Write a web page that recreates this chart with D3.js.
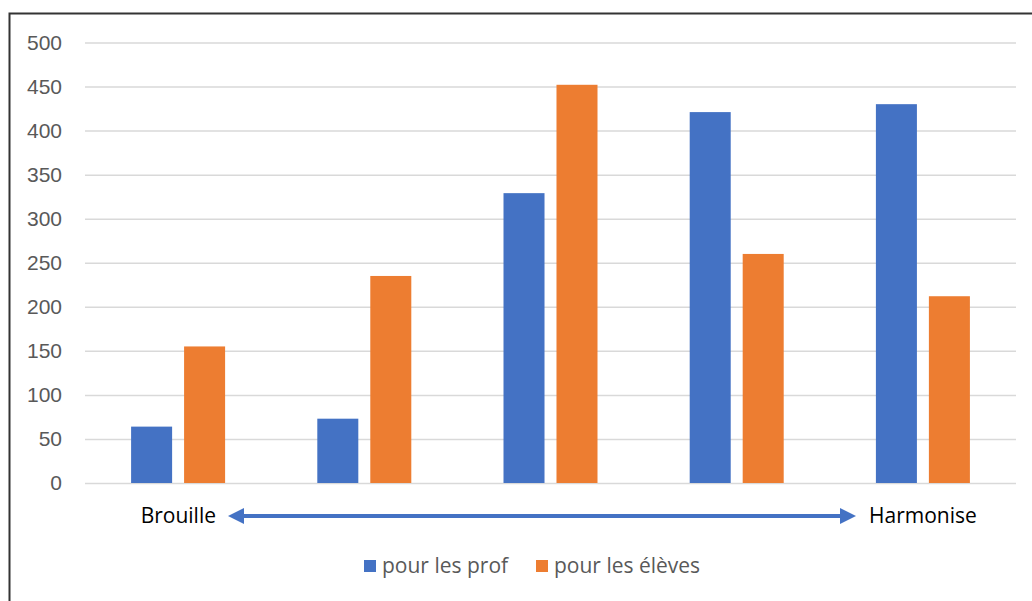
<!DOCTYPE html>
<html>
<head>
<meta charset="utf-8">
<script src="https://cdn.jsdelivr.net/npm/d3@7"></script>
<style>
  body { margin: 0; background: #fff; }
  svg { display: block; font-family: "Open Sans", "Noto Sans", sans-serif; }
  .tick text { fill: #595959; font-size: 21px; }
</style>
</head>
<body>
<div id="chart"></div>
<script>
// groups along the Brouille -> Harmonise axis (no category labels shown)
var categories = ["1", "2", "3", "4", "5"];
var seriesNames = ["pour les prof", "pour les élèves"];
var profValues = [64, 73, 329, 421, 430];
var elevesValues = [155, 235, 452, 260, 212];
var yTicks = [0, 50, 100, 150, 200, 250, 300, 350, 400, 450, 500];
var endLabels = ["Brouille", "Harmonise"];
var colors = ["#4472C4", "#ED7D31"];

var width = 1032, height = 601;
var margin = {top: 42.5, right: 16, bottom: 118, left: 85};

var svg = d3.select("#chart").append("svg")
    .attr("width", width)
    .attr("height", height);

// frame around chart (right and bottom edges are cropped in the original)
svg.append("path")
    .attr("d", "M9.5," + height + " V13.5 H" + width)
    .attr("fill", "none")
    .attr("stroke", "#333")
    .attr("stroke-width", 2);

var x0 = d3.scaleBand()
    .domain(categories)
    .range([margin.left, width - margin.right]);

var x1 = d3.scaleBand()
    .domain(seriesNames)
    .range([0, x0.bandwidth()])
    .paddingInner(0.226)
    .paddingOuter(0.87);

var y = d3.scaleLinear()
    .domain([0, 500])
    .range([height - margin.bottom, margin.top]);

// gridlines + labels
var yAxis = svg.append("g")
    .attr("transform", "translate(" + margin.left + ",0)")
    .call(d3.axisLeft(y).tickValues(yTicks).tickSize(-(width - margin.right - margin.left)).tickPadding(23));
yAxis.select(".domain").remove();
yAxis.selectAll(".tick line").attr("stroke", "#D9D9D9").attr("stroke-width", 1.5);

var data = categories.map(function(c, i) {
    return {cat: c, values: [profValues[i], elevesValues[i]]};
});

var groups = svg.selectAll("g.group")
    .data(data)
    .enter()
    .append("g")
    .attr("class", "group")
    .attr("transform", (d) => "translate(" + x0(d.cat) + ",0)");

groups.selectAll("rect")
    .data((d) => d.values.map((v, j) => ({name: seriesNames[j], value: v, j: j})))
    .enter()
    .append("rect")
    .attr("x", (d) => x1(d.name))
    .attr("y", (d) => y(d.value))
    .attr("width", x1.bandwidth())
    .attr("height", (d) => y(0) - y(d.value))
    .attr("fill", (d) => colors[d.j]);

// double arrow between the two end labels
var arrowY = 516;
var ax1 = 228, ax2 = 856;
svg.append("line")
    .attr("x1", ax1 + 12).attr("x2", ax2 - 12)
    .attr("y1", arrowY).attr("y2", arrowY)
    .attr("stroke", "#4472C4")
    .attr("stroke-width", 4);
svg.append("path")
    .attr("d", "M" + ax1 + "," + arrowY + " L" + (ax1 + 16) + "," + (arrowY - 8) + " L" + (ax1 + 16) + "," + (arrowY + 8) + " Z")
    .attr("fill", "#4472C4");
svg.append("path")
    .attr("d", "M" + ax2 + "," + arrowY + " L" + (ax2 - 16) + "," + (arrowY - 8) + " L" + (ax2 - 16) + "," + (arrowY + 8) + " Z")
    .attr("fill", "#4472C4");

svg.append("text")
    .attr("x", 216).attr("y", arrowY + 7)
    .attr("text-anchor", "end")
    .attr("font-size", 21)
    .attr("fill", "#000")
    .text(endLabels[0]);
svg.append("text")
    .attr("x", 869).attr("y", arrowY + 7)
    .attr("font-size", 21)
    .attr("fill", "#000")
    .text(endLabels[1]);

// legend
var legendX = [364, 536];
var legend = svg.selectAll("g.legend")
    .data(seriesNames)
    .enter()
    .append("g")
    .attr("class", "legend")
    .attr("transform", (d, i) => "translate(" + legendX[i] + ",560)");
legend.append("rect")
    .attr("width", 12).attr("height", 12)
    .attr("fill", (d, i) => colors[i]);
legend.append("text")
    .attr("x", 18).attr("y", 13)
    .attr("font-size", 21)
    .attr("fill", "#595959")
    .text((d) => d);
</script>
</body>
</html>
